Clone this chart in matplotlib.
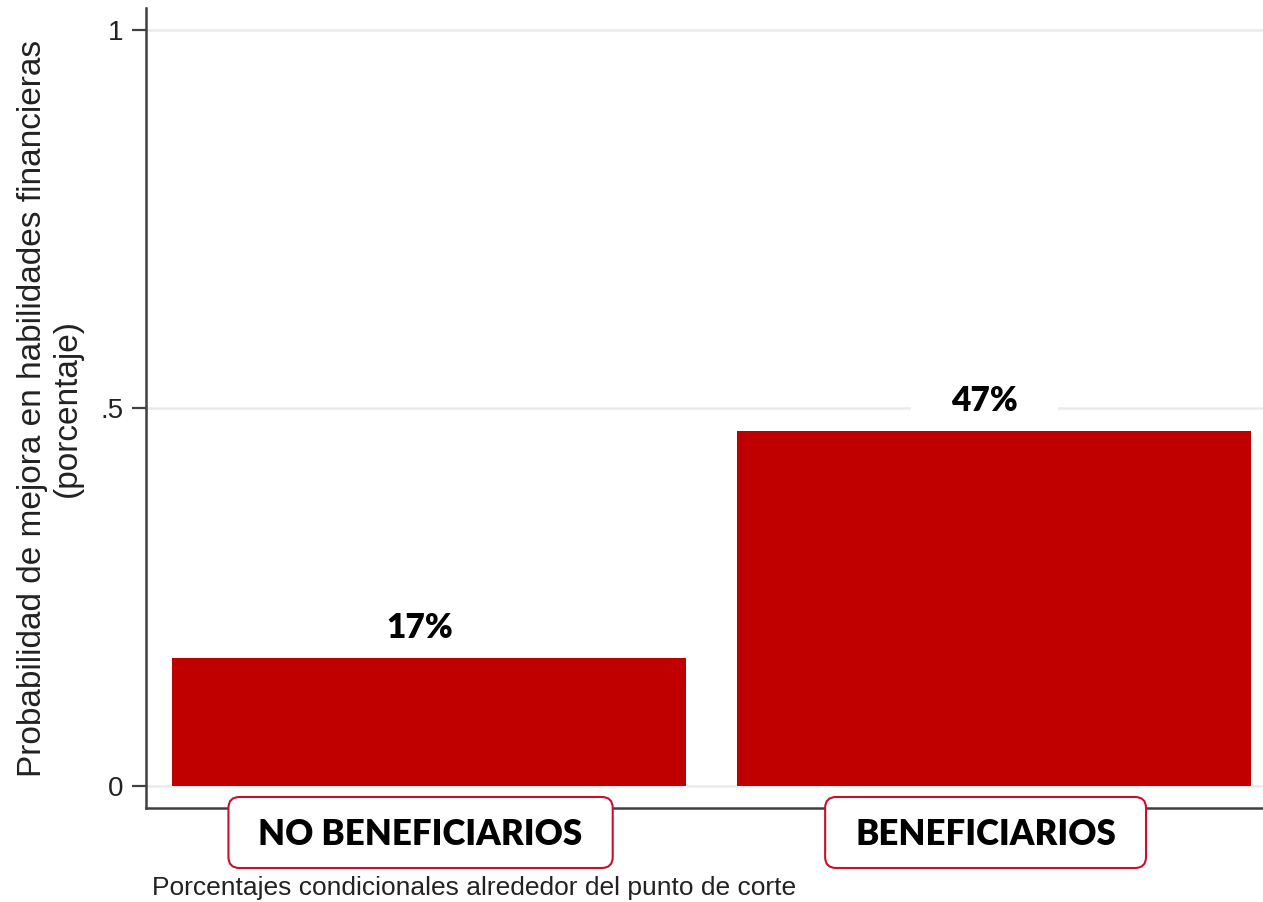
import matplotlib
matplotlib.use("Agg")
import matplotlib.pyplot as plt
from matplotlib import font_manager
from matplotlib.patches import FancyBboxPatch
from matplotlib.transforms import IdentityTransform

categories = ["NO BENEFICIARIOS", "BENEFICIARIOS"]
values = [0.17, 0.47]
value_labels = ["17%", "47%"]
y_ticks = [0, 0.5, 1]
y_tick_labels = ["0", ".5", "1"]

bar_color = "#C00000"
box_edge = "#C8102E"

W, H, DPI = 1263, 902, 100
fig = plt.figure(figsize=(W / DPI, H / DPI), dpi=DPI)
ax = fig.add_axes([146 / W, 1 - 808 / H, (W - 146) / W, 800 / H])

plt.rcParams["font.family"] = ["Liberation Sans", "DejaVu Sans"]

names = {f.name for f in font_manager.fontManager.ttflist}
bold_family = ["Lato", "DejaVu Sans"] if "Lato" in names else ["DejaVu Sans"]

x = list(range(len(categories)))
ax.bar(x, values, width=0.91, color=bar_color, zorder=3)

ax.set_xlim(-0.501, 1.476)
ax.set_ylim(-0.029, 1.029)

ax.set_yticks(y_ticks)
ax.set_yticklabels(y_tick_labels, family=["Liberation Sans"], fontsize=20, color="#222222")
ax.tick_params(axis="y", length=10, width=1.6, color="#404040", pad=6)
ax.set_xticks(x)
ax.set_xticklabels([])
ax.tick_params(axis="x", length=0)

ax.yaxis.grid(True, color="#EAEAEA", linewidth=1.8, zorder=0.5)
ax.set_axisbelow(True)

for side in ("top", "right"):
    ax.spines[side].set_visible(False)
for side in ("left", "bottom"):
    ax.spines[side].set_color("#404040")
    ax.spines[side].set_linewidth(1.8)

ax.set_ylabel("Probabilidad de mejora en habilidades financieras\n(porcentaje)",
              family=["Liberation Sans"], fontsize=24, color="#222222",
              linespacing=1.15, labelpad=13)
ax.set_xlabel("Porcentajes condicionales alrededor del punto de corte",
              family=["Liberation Sans"], fontsize=19, color="#222222")
ax.xaxis.set_label_coords((152 - 146) / (W - 146), -0.085)
ax.xaxis.label.set_horizontalalignment("left")
ax.xaxis.label.set_verticalalignment("top")

# value labels above the bars, on a white patch that hides the gridline
for xi, v, lab in zip(x, values, value_labels):
    ax.annotate(lab, xy=(xi, v), xytext=(-7, 10), textcoords="offset points",
                ha="center", va="bottom", fontsize=24, fontweight="heavy",
                family=bold_family, color="black", zorder=2.5,
                bbox=dict(boxstyle="square,pad=1.2", fc="white", ec="none"))

# category labels below the axis, each inside a rounded box over the spine
cat_texts = []
for xi, cat in zip(x, categories):
    t = ax.text(xi - 0.015, -0.046, cat, transform=ax.get_xaxis_transform(),
                ha="center", va="baseline", fontsize=25, fontweight="heavy",
                family=bold_family, color="black", zorder=5, clip_on=False)
    cat_texts.append(t)

fig.canvas.draw()
renderer = fig.canvas.get_renderer()
box_top = ax.transAxes.transform((0, 0.01375))[1]
box_bot = ax.transAxes.transform((0, -0.075))[1]
hpad, radius = 30, 11
for t in cat_texts:
    ext = t.get_window_extent(renderer)
    x0, x1 = ext.x0 - hpad, ext.x1 + hpad
    box = FancyBboxPatch((x0 + radius, box_bot + radius),
                         (x1 - x0) - 2 * radius, (box_top - box_bot) - 2 * radius,
                         boxstyle=f"round,pad={radius},rounding_size={radius}",
                         transform=IdentityTransform(), fc="white", ec=box_edge,
                         lw=1.5, zorder=4, clip_on=False)
    ax.add_patch(box)

fig.savefig("out.png", dpi=DPI)
